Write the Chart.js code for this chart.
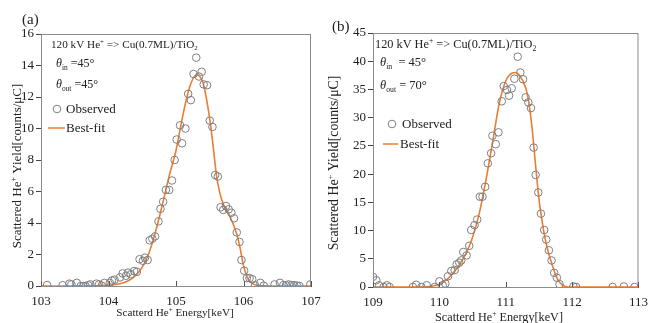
<!DOCTYPE html>
<html>
<head>
<meta charset="utf-8">
<script src="https://cdn.jsdelivr.net/npm/chart.js@4"></script>
<style>
  body { margin: 0; background: #fff; }
  #wrap { position: relative; width: 648px; height: 323px; }
  canvas { position: absolute; top: 0; }
</style>
</head>
<body>
<div id="wrap">
  <canvas id="chartA" width="324" height="323" style="left:0"></canvas>
  <canvas id="chartB" width="324" height="323" style="left:324px"></canvas>
</div>
<script>
// panel (a): theta_out = 45
const obsEnergyA = [103.09, 103.32, 103.42, 103.45, 103.53, 103.59, 103.63, 103.66, 103.70, 103.73,
  103.82, 103.86, 103.90, 103.94, 104.02, 104.05, 104.09, 104.17, 104.21, 104.26, 104.29, 104.33,
  104.38, 104.42, 104.46, 104.51, 104.54, 104.58, 104.61, 104.65, 104.69, 104.74, 104.77, 104.81,
  104.85, 104.90, 104.94, 104.98, 105.01, 105.09, 105.06, 105.14, 105.18, 105.22, 105.26, 105.30,
  105.34, 105.38, 105.41, 105.46, 105.50, 105.54, 105.58, 105.62, 105.66, 105.70, 105.74, 105.78,
  105.82, 105.86, 105.90, 105.94, 105.97, 106.01, 106.05, 106.09, 106.13, 106.17, 106.25, 106.30,
  106.46, 106.54, 106.59, 106.63, 106.67, 106.71, 106.75, 106.79, 106.83, 106.99];
const obsYieldA = [0.06, 0.05, 0.15, 0.1, 0.2, 0, 0, 0, 0.05, 0.1,
  0.15, 0.1, 0.02, 0.2, 0.2, 0.35, 0.4, 0.55, 0.8, 0.65, 0.85, 0.75,
  0.95, 0.9, 1.7, 1.6, 1.8, 1.65, 2.9, 3.0, 3.15, 4.1, 4.9, 5.35,
  6.1, 6.1, 6.7, 8.0, 9.3, 9.06, 10.2, 10.0, 12.2, 11.8, 13.46, 14.5,
  13.3, 13.6, 12.8, 12.75, 10.5, 10.1, 7.05, 6.95, 5.0, 4.83, 5.08, 4.87,
  4.65, 4.3, 3.4, 2.8, 1.65, 0.97, 0.5, 0.5, 0.43, 0.05, 0.2, 0.02,
  0.1, 0.2, 0.05, 0.05, 0.1, 0.05, 0.05, 0.03, 0, 0.1];
const fitEnergyA = [103.0, 103.5, 103.8, 104.0, 104.1, 104.2, 104.3, 104.4, 104.5, 104.6, 104.7,
  104.8, 104.9, 105.0, 105.1, 105.2, 105.3, 105.4, 105.5, 105.55, 105.6, 105.65, 105.7, 105.8,
  105.9, 105.95, 106.0, 106.05, 106.1, 106.2, 106.3, 106.5, 107.0];
const fitYieldA = [0, 0, 0.01, 0.04, 0.1, 0.18, 0.35, 0.65, 1.2, 2.1, 3.5,
  5.2, 7.0, 8.6, 10.8, 12.6, 13.4, 12.9, 10.6, 8.9, 7.0, 5.9, 5.2, 4.4,
  3.3, 2.4, 1.3, 0.6, 0.25, 0.05, 0.01, 0, 0];

// panel (b): theta_out = 70
const obsEnergyB = [109.0, 109.05, 109.09, 109.16, 109.21, 109.25, 109.6, 109.65, 109.73, 109.81,
  109.93, 110.0, 110.05, 110.09, 110.13, 110.18, 110.23, 110.26, 110.30, 110.33, 110.36, 110.41,
  110.45, 110.48, 110.53, 110.57, 110.61, 110.65, 110.69, 110.73, 110.78, 110.80, 110.85, 110.89,
  110.94, 110.97, 111.02, 111.05, 111.09, 111.13, 111.18, 111.22, 111.26, 111.30, 111.34, 111.38,
  111.42, 111.45, 111.49, 111.53, 111.58, 111.61, 111.65, 111.69, 111.73, 111.77, 111.81, 112.02,
  112.06, 112.61, 112.78, 112.94];
const obsYieldB = [1.8, 1.2, 0.3, 0, 0.3, 0, 0, 0.4, 0, 0.3,
  0, 1.0, 0.3, 0.6, 1.9, 2.85, 3.0, 4.0, 4.3, 4.7, 6.2, 5.6,
  7.3, 10.1, 10.95, 11.95, 16.0, 16.0, 17.75, 21.9, 23.7, 26.8, 25.3, 27.4,
  32.9, 35.6, 34.9, 33.9, 35.2, 36.9, 40.8, 38.0, 36.8, 33.6, 32.7, 31.7,
  24.7, 19.85, 16.75, 13.0, 10.1, 8.4, 6.5, 4.7, 2.5, 1.65, 0.5, 0.1,
  0, 0, 0.1, 0];
const fitEnergyB = [109.0, 109.5, 109.8, 110.0, 110.1, 110.2, 110.3, 110.4, 110.5, 110.6, 110.7,
  110.8, 110.9, 111.0, 111.1, 111.15, 111.2, 111.3, 111.35, 111.4, 111.45, 111.5, 111.55, 111.6,
  111.65, 111.7, 111.75, 111.8, 111.85, 111.9, 112.0, 113.0];
const fitYieldB = [0, 0, 0.05, 0.5, 1.2, 2.4, 3.9, 5.9, 8.8, 13.0, 18.8,
  25.5, 32.4, 36.5, 37.9, 38.0, 37.6, 35.3, 32.5, 27.8, 21.5, 15.6, 11.5, 8.2,
  5.8, 3.9, 2.2, 1.0, 0.4, 0.1, 0, 0];

const xRangeA = [103, 107], yRangeA = [0, 16], yStepA = 2;
const xRangeB = [109, 113], yRangeB = [0, 45], yStepB = 5;

const serif = "'Liberation Serif', 'Times New Roman', serif";
const orange = '#ED7D31';
const grey = '#7f7f7f';

// draws text pieces with sub/superscripts and italics
function richText(ctx, x, y, parts, size) {
    let cx = x;
    parts.forEach(p => {
        let s = size, dy = 0;
        if (p.sup) { s = size * 0.62; dy = -size * 0.38; }
        if (p.sub) { s = size * 0.62; dy = size * 0.22; }
        ctx.font = (p.it ? 'italic ' : '') + s + 'px ' + serif;
        ctx.fillText(p.t, cx, y + dy);
        cx += ctx.measureText(p.t).width;
    });
    return cx;
}

function richWidth(ctx, parts, size) {
    let w = 0;
    parts.forEach(p => {
        const s = (p.sup || p.sub) ? size * 0.62 : size;
        ctx.font = (p.it ? 'italic ' : '') + s + 'px ' + serif;
        w += ctx.measureText(p.t).width;
    });
    return w;
}

function makeChart(id, cfg) {
    const ctx = document.getElementById(id);

    const extras = {
        id: 'extras',
        afterDraw(chart) {
            const c = chart.ctx;
            const a = chart.chartArea;
            const xs = chart.scales.x;
            c.save();
            // frame
            c.strokeStyle = '#8c8c8c';
            c.lineWidth = 1;
            c.strokeRect(a.left + 0.5, a.top + 0.5, a.right - a.left - 1, a.bottom - a.top);
            // inward x ticks
            c.strokeStyle = '#555';
            xs.ticks.forEach(t => {
                const px = Math.round(xs.getPixelForValue(t.value)) + 0.5;
                c.beginPath();
                c.moveTo(px, a.bottom);
                c.lineTo(px, a.bottom - 5);
                c.stroke();
            });

            c.fillStyle = '#222';
            c.textBaseline = 'alphabetic';
            c.textAlign = 'left';
            const f = cfg.note;
            richText(c, f.x, f.y1, [{t: '120 kV He'}, {t: '+', sup: true}, {t: ' => Cu(0.7ML)/TiO'}, {t: '2', sub: true}], f.size);
            richText(c, f.x + f.dx, f.y2, [{t: 'θ', it: true}, {t: 'in', sub: true}, {t: cfg.inText}], f.size2);
            richText(c, f.x + f.dx, f.y3, [{t: 'θ', it: true}, {t: 'out', sub: true}, {t: cfg.outText}], f.size2);

            // legend
            const L = cfg.legend;
            c.strokeStyle = grey;
            c.lineWidth = 1;
            c.beginPath();
            c.arc(L.cx, L.cy, 3.8, 0, Math.PI * 2);
            c.stroke();
            c.font = L.size + 'px ' + serif;
            c.fillText('Observed', L.tx, L.cy + L.size * 0.33);
            c.strokeStyle = orange;
            c.lineWidth = 1.5;
            c.beginPath();
            c.moveTo(L.lx1, L.ly);
            c.lineTo(L.lx2, L.ly);
            c.stroke();
            c.fillText('Best-fit', L.tx2, L.ly + L.size * 0.33);

            // panel label
            c.font = '15px ' + serif;
            c.fillText(cfg.label, cfg.labelX, cfg.labelY);

            // axis titles
            const xt = cfg.xTitle;
            const xParts = [{t: 'Scatterd He'}, {t: '+', sup: true}, {t: ' Energy[keV]'}];
            const xw = richWidth(c, xParts, xt.size);
            richText(c, xt.x - xw / 2, xt.y, xParts, xt.size);

            const yt = cfg.yTitle;
            const yParts = [{t: 'Scattered He'}, {t: '+', sup: true}, {t: ' Yield[counts/μC]'}];
            c.save();
            c.translate(yt.x, yt.y);
            c.rotate(-Math.PI / 2);
            const yw = richWidth(c, yParts, yt.size);
            richText(c, -yw / 2, 0, yParts, yt.size);
            c.restore();
            c.restore();
        }
    };

    return new Chart(ctx, {
        type: 'scatter',
        data: {
            datasets: [
                {
                    label: 'Best-fit',
                    data: cfg.fitX.map((v, i) => ({x: v, y: cfg.fitY[i]})),
                    showLine: true,
                    borderColor: orange,
                    borderWidth: 1.6,
                    pointRadius: 0,
                    cubicInterpolationMode: 'monotone',
                    order: 1
                },
                {
                    label: 'Observed',
                    data: cfg.obsX.map((v, i) => ({x: v, y: cfg.obsY[i]})),
                    pointRadius: 3.8,
                    pointBorderWidth: 1,
                    borderColor: grey,
                    backgroundColor: 'rgba(0,0,0,0)',
                    order: 0
                }
            ]
        },
        options: {
            responsive: false,
            animation: false,
            layout: { padding: cfg.padding },
            plugins: { legend: { display: false }, tooltip: { enabled: false } },
            scales: {
                x: {
                    type: 'linear',
                    min: cfg.xRange[0],
                    max: cfg.xRange[1],
                    grid: { display: false },
                    border: { display: true, color: '#444' },
                    ticks: { stepSize: 1, padding: 0, color: '#222', font: { family: serif, size: cfg.tickSize }, maxRotation: 0 },
                    afterFit: s => { s.height = cfg.xHeight; }
                },
                y: {
                    min: cfg.yRange[0],
                    max: cfg.yRange[1],
                    grid: { drawOnChartArea: false, drawTicks: true, tickLength: 5, color: '#444' },
                    border: { display: true, color: '#444' },
                    ticks: { stepSize: cfg.yStep, padding: 2, color: '#222', font: { family: serif, size: cfg.tickSize } },
                    afterFit: s => { s.width = cfg.yWidth; }
                }
            }
        },
        plugins: [extras]
    });
}

makeChart('chartA', {
    obsX: obsEnergyA, obsY: obsYieldA, fitX: fitEnergyA, fitY: fitYieldA,
    xRange: xRangeA, yRange: yRangeA, yStep: yStepA,
    padding: { left: 0, right: 13, top: 34, bottom: 0 },
    yWidth: 41, xHeight: 37, tickSize: 13,
    inText: ' =45°', outText: ' =45°',
    note: { x: 51, y1: 48, dx: 5, y2: 67, y3: 88, size: 11.2, size2: 12 },
    legend: { cx: 57, cy: 109, tx: 66, lx1: 48, lx2: 65, ly: 128, tx2: 66, size: 13 },
    label: '(a)', labelX: 22, labelY: 24,
    xTitle: { x: 175, y: 316, size: 11.2 },
    yTitle: { x: 21, y: 166, size: 13 }
});

makeChart('chartB', {
    obsX: obsEnergyB, obsY: obsYieldB, fitX: fitEnergyB, fitY: fitYieldB,
    xRange: xRangeB, yRange: yRangeB, yStep: yStepB,
    padding: { left: 0, right: 8, top: 33, bottom: 0 },
    yWidth: 49, xHeight: 36, tickSize: 13,
    inText: '  = 45°', outText: ' = 70°',
    note: { x: 51, y1: 48, dx: 5, y2: 66, y3: 89, size: 12.3, size2: 12.5 },
    legend: { cx: 68, cy: 124, tx: 78, lx1: 59, lx2: 74, ly: 144, tx2: 76, size: 13 },
    label: '(b)', labelX: 8, labelY: 31,
    xTitle: { x: 175, y: 321, size: 12.2 },
    yTitle: { x: 14, y: 163, size: 13.8 }
});
</script>
</body>
</html>
